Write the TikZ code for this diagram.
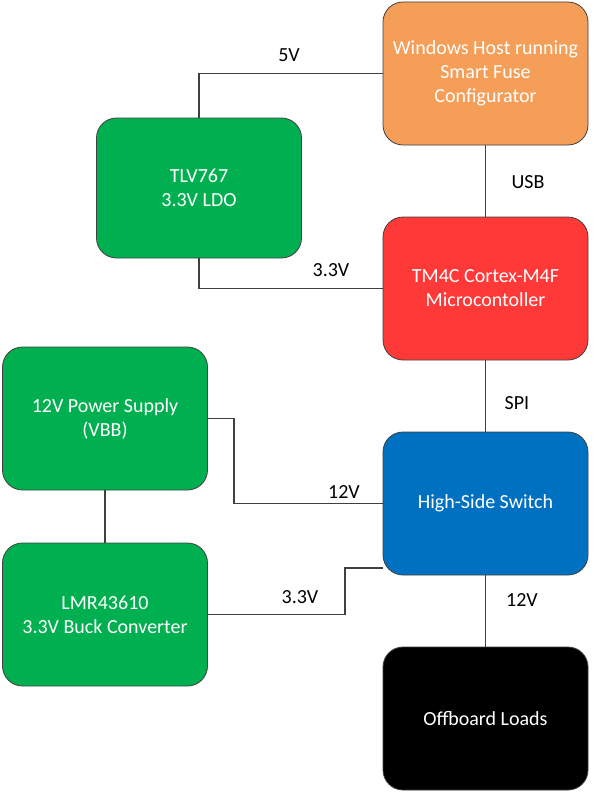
\documentclass[tikz,border=0pt]{standalone}
\usepackage{fontspec}
\setmainfont{Carlito}
\usetikzlibrary{positioning,backgrounds}

\definecolor{hostorange}{RGB}{245,158,88}
\definecolor{ldogreen}{RGB}{0,176,80}
\definecolor{mcured}{RGB}{255,56,56}
\definecolor{hssblue}{RGB}{0,112,192}
\definecolor{wiregray}{RGB}{64,64,64}

\begin{document}
\begin{tikzpicture}[
  x=1pt, y=-1pt,
  block/.style={draw=wiregray, line width=0.8pt, minimum width=205pt, minimum height=143pt,
    rounded corners=20pt, text=white, align=center,
    font=\fontsize{20}{24}\selectfont},
  wire/.style={draw=wiregray, line width=1.3pt},
  tag/.style={font=\fontsize{20}{22}\selectfont, text=black}
]
\useasboundingbox (0,0) rectangle (594,792);

% Blocks
\node[block, fill=hostorange] (host) at (485.5,73.5) {Windows Host running\\Smart Fuse\\Configurator};
\node[block, fill=ldogreen, minimum height=140pt] (ldo) at (199,188) {TLV767\\3.3V LDO};
\node[block, fill=mcured] (mcu) at (485.5,288.5) {TM4C Cortex-M4F\\Microcontoller};
\node[block, fill=ldogreen] (psu) at (105,418.5) {12V Power Supply\\(VBB)};
\node[block, fill=hssblue] (hss) at (485.5,503.5) {High-Side Switch};
\node[block, fill=ldogreen] (buck) at (105,614.5) {LMR43610\\3.3V Buck Converter};
\node[block, fill=black] (loads) at (485.5,718.5) {Offboard Loads};

% Wires
\begin{scope}[on background layer]
\draw[wire] (ldo.north) |- (host.west);
\draw[wire] (ldo.south) |- (mcu.west);
\draw[wire] (host) -- (mcu);
\draw[wire] (mcu) -- (hss);
\draw[wire] (psu.east) -- ++(26,0) |- (hss.west);
\draw[wire] (psu) -- (buck);
\draw[wire] (buck.east) -- ++(137,0) |- ([yshift=-64.5pt]hss.west);
\draw[wire] (hss) -- (loads);
\end{scope}

% Labels
\node[tag] (t5v) at (289,55) {5V};
\node[tag] (tusb) at (528,182) {USB};
\node[tag] (tldo) at (331,270) {3.3V};
\node[tag] (tspi) at (517,403) {SPI};
\node[tag] (t12a) at (344,492) {12V};
\node[tag] (tbuck) at (300,597) {3.3V};
\node[tag] (t12b) at (522,600) {12V};

\end{tikzpicture}
\end{document}
